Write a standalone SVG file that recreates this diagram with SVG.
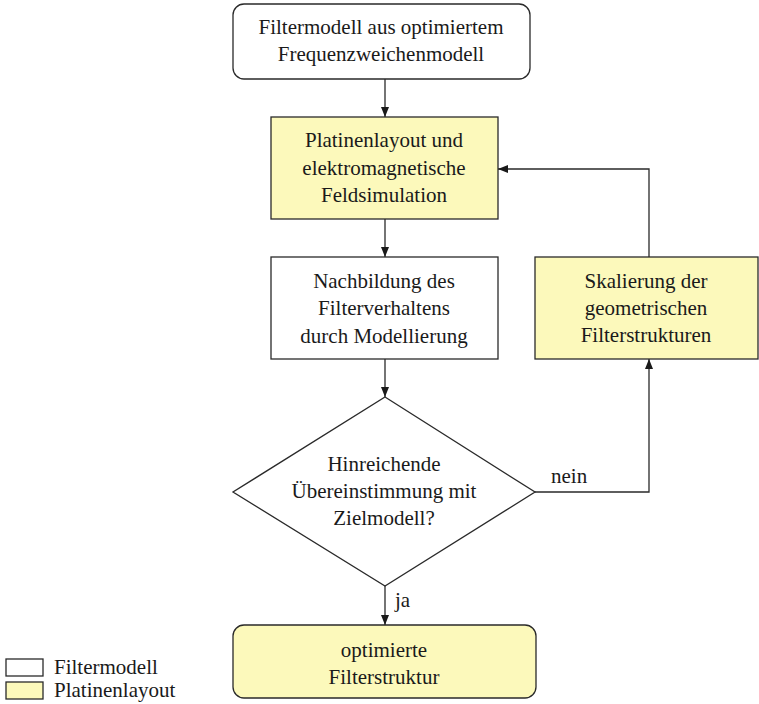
<svg xmlns="http://www.w3.org/2000/svg" width="759" height="704" viewBox="0 0 759 704">
<defs>
<style>
.box{stroke:#2a2a2a;stroke-width:1.3}
.w{fill:#ffffff}
.y{fill:#fcf9bb}
.t{font-size:21px;fill:#1a1a1a;text-anchor:middle}
.l{font-size:21px;fill:#1a1a1a}
.c{fill:none;stroke:#2a2a2a;stroke-width:1.3}
</style>
<marker id="a" viewBox="0 0 10 10" refX="10" refY="5" markerWidth="10" markerHeight="10" markerUnits="userSpaceOnUse" orient="auto">
<path d="M0,1 L10,5 L0,9 Z" fill="#1a1a1a"/>
</marker>
</defs>
<rect width="759" height="704" fill="#ffffff"/>
<g font-family="'Liberation Serif', 'Times New Roman', 'DejaVu Serif', serif">
<g id="connectors">
<line class="c" x1="385" y1="79" x2="385" y2="117" marker-end="url(#a)"/>
<line class="c" x1="385" y1="219" x2="385" y2="257" marker-end="url(#a)"/>
<line class="c" x1="385" y1="359" x2="385" y2="397" marker-end="url(#a)"/>
<line class="c" x1="385" y1="586" x2="385" y2="625" marker-end="url(#a)"/>
<polyline class="c" points="535,492 649,492 649,359" marker-end="url(#a)"/>
<polyline class="c" points="649,257 649,169 498,169" marker-end="url(#a)"/>
<text class="l" x="551" y="483">nein</text>
<text class="l" x="395" y="607">ja</text>
</g>
<g id="start">
<rect class="box w" x="233" y="4" width="297" height="75" rx="11"/>
<text class="t" x="381" y="34">Filtermodell aus optimiertem</text>
<text class="t" x="381" y="61">Frequenzweichenmodell</text>
</g>
<g id="layout">
<rect class="box y" x="271" y="117" width="227" height="102"/>
<text class="t" x="384" y="147">Platinenlayout und</text>
<text class="t" x="384" y="175">elektromagnetische</text>
<text class="t" x="384" y="202">Feldsimulation</text>
</g>
<g id="nachbildung">
<rect class="box w" x="271" y="257" width="227" height="102"/>
<text class="t" x="384" y="288">Nachbildung des</text>
<text class="t" x="384" y="315">Filterverhaltens</text>
<text class="t" x="384" y="343">durch Modellierung</text>
</g>
<g id="skalierung">
<rect class="box y" x="535" y="257" width="223" height="102"/>
<text class="t" x="646" y="288">Skalierung der</text>
<text class="t" x="646" y="315">geometrischen</text>
<text class="t" x="646" y="342">Filterstrukturen</text>
</g>
<g id="decision">
<polygon class="box w" points="385,397 535,492 385,586 233,492"/>
<text class="t" x="384" y="471">Hinreichende</text>
<text class="t" x="384" y="498">Übereinstimmung mit</text>
<text class="t" x="384" y="525">Zielmodell?</text>
</g>
<g id="end">
<rect class="box y" x="233" y="625" width="303" height="73" rx="11"/>
<text class="t" x="384" y="657">optimierte</text>
<text class="t" x="384" y="684">Filterstruktur</text>
</g>
<g id="legend">
<rect class="box w" x="6" y="659" width="37" height="17"/>
<text class="l" x="54" y="674">Filtermodell</text>
<rect class="box y" x="6" y="682" width="37" height="17"/>
<text class="l" x="54" y="697">Platinenlayout</text>
</g>
</g>
</svg>
